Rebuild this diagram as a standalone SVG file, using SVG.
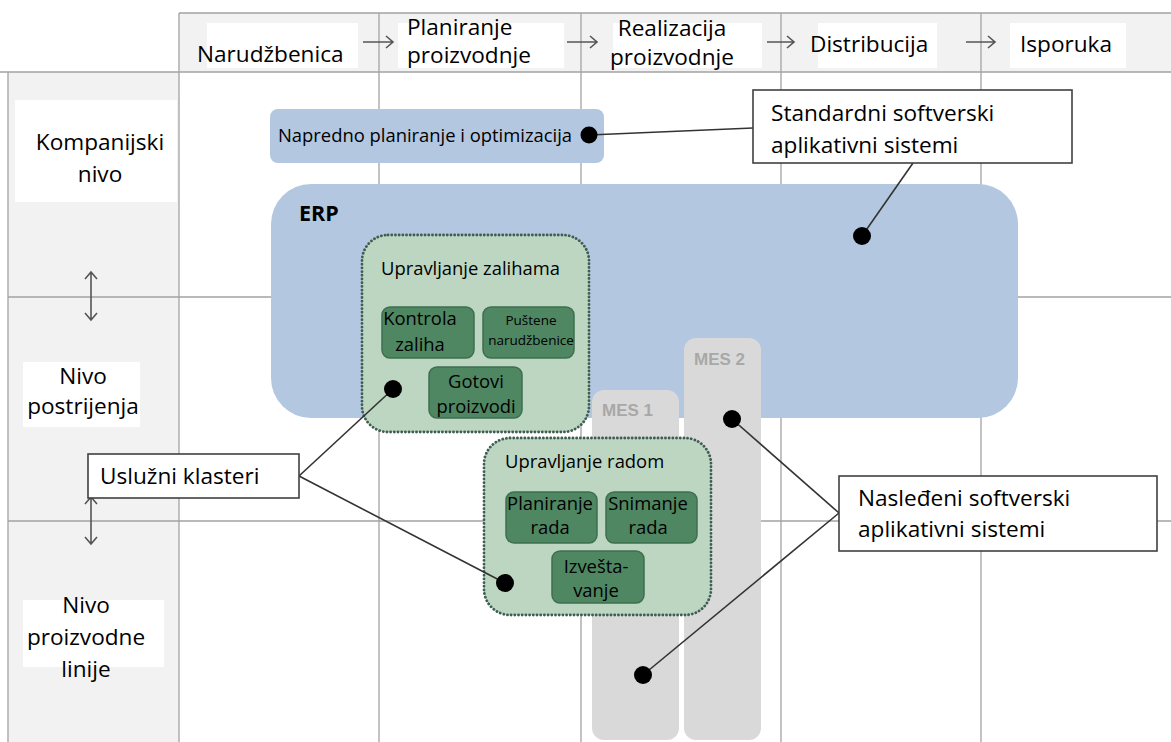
<svg xmlns="http://www.w3.org/2000/svg" width="1171" height="742" viewBox="0 0 1171 742">
<style>
.grid{stroke:#a3a3a3;stroke-width:1.3;fill:none}
.t{font-family:"Open Sans","Noto Sans","DejaVu Sans",sans-serif;fill:#000}
.big{font-size:22.6px}
.mid{font-size:18.4px}
.sm{font-size:13.5px}
.c{text-anchor:middle}
.blue{fill:#b3c7e1}
.mes{fill:#d9d9d9}
.mest{font-family:"Liberation Sans",Arial,sans-serif;font-size:17px;fill:#a8a8a8;font-weight:bold}
.cont{fill:#bdd6c2;stroke:#3f5e52;stroke-width:2.8;stroke-dasharray:0.1 3.6;stroke-linecap:round}
.inner{fill:#4f8762;stroke:#3e6f4f;stroke-width:1.5}
.call{fill:#fff;stroke:#404040;stroke-width:1.6}
.ln{stroke:#333;stroke-width:1.6;fill:none}
.arr{stroke:#555;stroke-width:1.6;fill:none}
.dot{fill:#000}
</style>
<rect x="0" y="0" width="1171" height="742" fill="#fff"/>
<g id="grid">
<rect x="179" y="13" width="992" height="59" fill="#f2f2f2"/>
<rect x="207" y="23" width="151" height="45" fill="#fff"/>
<rect x="398" y="23" width="166" height="45" fill="#fff"/>
<rect x="613" y="23" width="149" height="45" fill="#fff"/>
<rect x="818" y="23" width="119" height="45" fill="#fff"/>
<rect x="1010" y="23" width="116" height="45" fill="#fff"/>
<rect x="8" y="72" width="171" height="670" fill="#f2f2f2"/>
<rect x="15" y="100" width="162" height="102" fill="#fff"/>
<rect x="23" y="362" width="117" height="65" fill="#fff"/>
<rect x="23" y="600" width="141" height="67" fill="#fff"/>
<path class="grid" d="M179,13 H1171 M0,72 H1171 M8,72 V742 M179,13 V742 M379,13 V742 M581,13 V742 M781,13 V742 M981,13 V742 M8,297 H1171 M8,521 H1171"/>
</g>
<g id="header-arrows">
<path class="arr" d="M363,42 H393 M386,36 L393,42 L386,48"/>
<path class="arr" d="M567,42 H597 M590,36 L597,42 L590,48"/>
<path class="arr" d="M767,42 H794 M787,36 L794,42 L787,48"/>
<path class="arr" d="M966,42 H995 M988,36 L995,42 L988,48"/>
<path class="arr" d="M91,272 V320 M85,279 L91,272 L97,279 M85,313 L91,320 L97,313"/>
<path class="arr" d="M91,497 V544 M85,504 L91,497 L97,504 M85,537 L91,544 L97,537"/>
</g>
<g id="header-labels">
<text class="t big" x="197" y="62">Narudžbenica</text>
<text class="t big" x="407" y="35">Planiranje</text>
<text class="t big" x="407" y="63">proizvodnje</text>
<text class="t big c" x="672" y="36">Realizacija</text>
<text class="t big c" x="672" y="65">proizvodnje</text>
<text class="t big" x="810" y="52">Distribucija</text>
<text class="t big" x="1020" y="52">Isporuka</text>
</g>
<g id="level-labels">
<text class="t big c" x="100" y="150">Kompanijski</text>
<text class="t big c" x="100" y="182">nivo</text>
<text class="t big c" x="83" y="384">Nivo</text>
<text class="t big c" x="83" y="414">postrijenja</text>
<text class="t big c" x="86" y="613">Nivo</text>
<text class="t big c" x="86" y="645">proizvodne</text>
<text class="t big c" x="86" y="677">linije</text>
</g>
<g id="napredno">
<rect class="blue" x="270" y="109" width="334" height="54" rx="8"/>
<text class="t mid" x="278" y="142">Napredno planiranje i optimizacija</text>
</g>
<g id="erp">
<rect class="blue" x="271" y="184" width="747" height="234" rx="40"/>
<text class="t" x="299" y="221" font-size="21.5" font-weight="bold">ERP</text>
</g>
<g id="mes2">
<rect class="mes" x="684" y="338" width="77" height="402" rx="12"/>
<text class="mest" x="694" y="365">MES 2</text>
</g>
<g id="mes1">
<rect class="mes" x="592" y="390" width="87" height="350" rx="12"/>
<text class="mest" x="602" y="416">MES 1</text>
</g>
<g id="upravljanje-zalihama">
<rect class="cont" x="362" y="235" width="227" height="197" rx="26"/>
<text class="t mid" x="381" y="275">Upravljanje zalihama</text>
</g>
<g id="kontrola-zaliha">
<rect class="inner" x="382" y="307" width="92" height="51" rx="8"/>
<text class="t mid c" x="420" y="325">Kontrola</text>
<text class="t mid c" x="420" y="351">zaliha</text>
</g>
<g id="pustene-narudzbenice">
<rect class="inner" x="483" y="307" width="91" height="51" rx="8"/>
<text class="t sm c" x="531" y="325">Puštene</text>
<text class="t sm c" x="531" y="345">narudžbenice</text>
</g>
<g id="gotovi-proizvodi">
<rect class="inner" x="429" y="367" width="93" height="51" rx="8"/>
<text class="t mid c" x="476" y="388">Gotovi</text>
<text class="t mid c" x="476" y="413">proizvodi</text>
</g>
<g id="upravljanje-radom">
<rect class="cont" x="484" y="438" width="227" height="177" rx="26"/>
<text class="t mid" x="505" y="468">Upravljanje radom</text>
</g>
<g id="planiranje-rada">
<rect class="inner" x="506" y="492" width="91" height="51" rx="8"/>
<text class="t mid c" x="550" y="510">Planiranje</text>
<text class="t mid c" x="550" y="534">rada</text>
</g>
<g id="snimanje-rada">
<rect class="inner" x="606" y="492" width="91" height="51" rx="8"/>
<text class="t mid c" x="648" y="510">Snimanje</text>
<text class="t mid c" x="648" y="534">rada</text>
</g>
<g id="izvestavanje">
<rect class="inner" x="552" y="551" width="92" height="52" rx="8"/>
<text class="t mid c" x="596" y="573">Izvešta-</text>
<text class="t mid c" x="596" y="597">vanje</text>
</g>
<g id="connectors">
<path class="ln" d="M589,135 L753,128"/>
<path class="ln" d="M913,163 L862,236"/>
<path class="ln" d="M299,476 L393,389"/>
<path class="ln" d="M299,476 L505,583"/>
<path class="ln" d="M839,513 L732,419"/>
<path class="ln" d="M839,513 L643,675"/>
<circle class="dot" cx="589" cy="135" r="8.5"/>
<circle class="dot" cx="862" cy="236" r="9"/>
<circle class="dot" cx="393" cy="389" r="9"/>
<circle class="dot" cx="505" cy="583" r="9"/>
<circle class="dot" cx="732" cy="419" r="9"/>
<circle class="dot" cx="643" cy="675" r="9"/>
</g>
<g id="standardni">
<rect class="call" x="753" y="90" width="319" height="73"/>
<text class="t big" x="771" y="121">Standardni softverski</text>
<text class="t big" x="771" y="153">aplikativni sistemi</text>
</g>
<g id="usluzni">
<rect class="call" x="88" y="454" width="211" height="44"/>
<text class="t big" x="100" y="484">Uslužni klasteri</text>
</g>
<g id="nasledjeni">
<rect class="call" x="839" y="476" width="318" height="75"/>
<text class="t big" x="858" y="506">Nasleđeni softverski</text>
<text class="t big" x="858" y="537">aplikativni sistemi</text>
</g>
</svg>
